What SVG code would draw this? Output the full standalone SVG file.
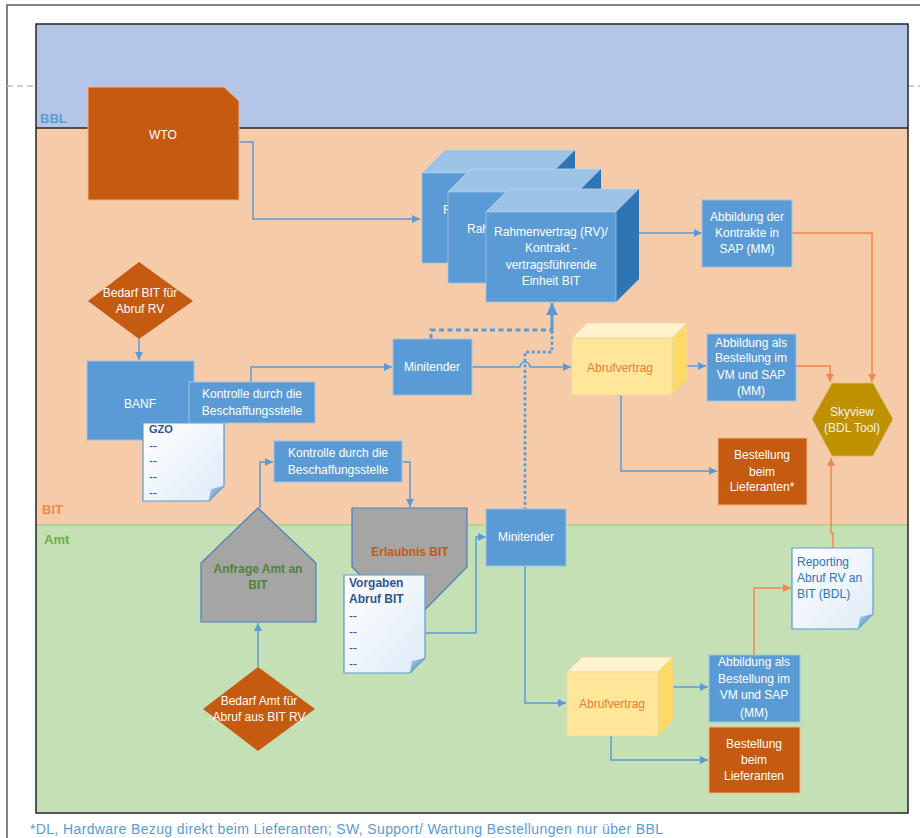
<svg xmlns="http://www.w3.org/2000/svg" width="920" height="838" viewBox="0 0 920 838">
<defs>
<style>
text{font-family:"Liberation Sans",Arial,sans-serif;font-size:12px}
.w{fill:#FFFFFF;text-anchor:middle}
.blue{fill:#5B9BD5;stroke:#9DC3E6;stroke-width:1}
.rust{fill:#C55A11;stroke:#F4B183;stroke-width:1}
.c{fill:none;stroke:#5B9BD5;stroke-width:1.5}
.o{fill:none;stroke:#F4884A;stroke-width:1.5}
.doc{fill:url(#dg);stroke:#5B9BD5;stroke-width:1.2}
.fold{fill:url(#fg)}
.dt{fill:#2F5597;font-weight:bold}
.dash{fill:#2F5597}
</style>
<linearGradient id="dg" x1="0" y1="0" x2="1" y2="1"><stop offset="0" stop-color="#FFFFFF"/><stop offset="1" stop-color="#DEEBF7"/></linearGradient>
<linearGradient id="fg" x1="0" y1="0" x2="1" y2="1"><stop offset="0" stop-color="#BDD7EE"/><stop offset="1" stop-color="#2E75B6"/></linearGradient>
<marker id="ab" viewBox="0 0 10 10" refX="10" refY="5" markerWidth="8" markerHeight="8" markerUnits="userSpaceOnUse" orient="auto"><path d="M0,0 L10,5 L0,10 Z" fill="#5B9BD5"/></marker>
<marker id="abl" viewBox="0 0 10 10" refX="10" refY="5" markerWidth="12" markerHeight="12" markerUnits="userSpaceOnUse" orient="auto"><path d="M0,0 L10,5 L0,10 Z" fill="#5B9BD5"/></marker>
<marker id="ao" viewBox="0 0 10 10" refX="10" refY="5" markerWidth="8" markerHeight="8" markerUnits="userSpaceOnUse" orient="auto"><path d="M0,0 L10,5 L0,10 Z" fill="#F4884A"/></marker>
</defs>
<rect width="920" height="838" fill="#FFFFFF"/>
<path d="M7,838 V5 H920" fill="none" stroke="#595959" stroke-width="1.5"/>
<path d="M7,86 H36 M908,86 H920" stroke="#BFBFBF" stroke-width="1.5" stroke-dasharray="6 4"/>
<g id="lanes">
<rect x="36" y="24" width="872" height="104" fill="#B4C6E7"/>
<rect x="36" y="128" width="872" height="397" fill="#F5CBA9"/>
<rect x="36" y="525" width="872" height="288" fill="#C5E0B4"/>
<line x1="36" y1="525" x2="908" y2="525" stroke="#A9D18E" stroke-width="1.5"/>
<line x1="36" y1="128" x2="908" y2="128" stroke="#262626" stroke-width="1.5"/>
<rect x="36" y="24" width="872" height="789" fill="none" stroke="#262626" stroke-width="1.5"/>
<text x="40" y="123" style="font-size:13px;font-weight:bold;fill:#5B9BD5">BBL</text>
<text x="42" y="514" style="font-size:13px;font-weight:bold;fill:#F4884A">BIT</text>
<text x="44" y="544" style="font-size:13px;font-weight:bold;fill:#70AD47">Amt</text>
</g>
<g id="connectors">
<path class="c" d="M239,142 H253 V219 H420" marker-end="url(#ab)"/>
<path class="c" d="M616,233 H702" marker-end="url(#ab)"/>
<path class="o" d="M792,233 H872 V382" marker-end="url(#ao)"/>
<path class="o" d="M796,366 H830 V382" marker-end="url(#ao)"/>
<path class="o" d="M833,548 V533 H831 V458" marker-end="url(#ao)"/>
<path class="c" d="M139,339 V360" marker-end="url(#ab)"/>
<path class="c" d="M251,382 V367 H392" marker-end="url(#ab)"/>
<path fill="none" stroke="#5B9BD5" stroke-width="3" stroke-dasharray="5 3.5" d="M431,339 V330 H552"/>
<path fill="none" stroke="#5B9BD5" stroke-width="3" stroke-linecap="round" stroke-dasharray="0.5 5" d="M525,509 V352 H552 V330"/>
<path fill="none" stroke="#5B9BD5" stroke-width="3" d="M552,332 V303" marker-end="url(#abl)"/>
<path class="c" d="M472,367 H520 A5,5 0 0 1 530,367 H571" marker-end="url(#ab)"/>
<path class="c" d="M687,366 H706" marker-end="url(#ab)"/>
<path class="c" d="M621,395 V471 H717" marker-end="url(#ab)"/>
<path class="c" d="M260,508 V462 H273" marker-end="url(#ab)"/>
<path class="c" d="M402,462 H410 V507" marker-end="url(#ab)"/>
<path class="c" d="M258,667 V623" marker-end="url(#ab)"/>
<path class="c" d="M425,633 H476 V537 H486" marker-end="url(#ab)"/>
<path class="c" d="M525,566 V703 H566" marker-end="url(#ab)"/>
<path class="c" d="M673,687 H708" marker-end="url(#ab)"/>
<path class="c" d="M611,736 V760 H708" marker-end="url(#ab)"/>
<path class="o" d="M754,655 V588 H791" marker-end="url(#ao)"/>
</g>
<g id="wto">
<path d="M88,87 H224 L239,101 V200 H88 Z" fill="#C55A11" stroke="#F4B183" stroke-width="1"/>
<text class="w" x="163" y="139">WTO</text>
</g>
<g id="rv1">
<path d="M422,173 L445,150 H575 L552,173 Z" fill="#9DC3E6" stroke="#BDD7EE" stroke-width="0.8"/>
<path d="M552,173 L575,150 V240 L552,263 Z" fill="#2E75B6"/>
<rect x="422" y="173" width="130" height="90" fill="#5B9BD5" stroke="#9DC3E6" stroke-width="0.8"/>
<text x="443" y="214" style="fill:#FFFFFF">Rahmen</text>
</g>
<g id="rv2">
<path d="M448,192 L471,169 H601 L578,192 Z" fill="#9DC3E6" stroke="#BDD7EE" stroke-width="0.8"/>
<path d="M578,192 L601,169 V260 L578,283 Z" fill="#2E75B6"/>
<rect x="448" y="192" width="130" height="91" fill="#5B9BD5" stroke="#9DC3E6" stroke-width="0.8"/>
<text x="467" y="233" style="fill:#FFFFFF">Rah</text>
</g>
<g id="rv3">
<path d="M486,212 L509,189 H639 L616,212 Z" fill="#9DC3E6" stroke="#BDD7EE" stroke-width="0.8"/>
<path d="M616,212 L639,189 V279 L616,302 Z" fill="#2E75B6"/>
<rect x="486" y="212" width="130" height="90" fill="#5B9BD5" stroke="#9DC3E6" stroke-width="0.8"/>
<text class="w" x="551" y="236">Rahmenvertrag (RV)/</text>
<text class="w" x="551" y="252">Kontrakt -</text>
<text class="w" x="551" y="269">vertragsführende</text>
<text class="w" x="551" y="285">Einheit BIT</text>
</g>
<g id="abbildung-kontrakte">
<rect class="blue" x="702" y="200" width="90" height="67"/>
<text class="w" x="747" y="221">Abbildung der</text>
<text class="w" x="747" y="237">Kontrakte in</text>
<text class="w" x="747" y="253">SAP (MM)</text>
</g>
<g id="bedarf-bit">
<path d="M139,262 L193,301 L139,339 L88,301 Z" fill="#C55A11"/>
<text class="w" x="140" y="297">Bedarf BIT für</text>
<text class="w" x="140" y="313">Abruf RV</text>
</g>
<g id="banf">
<rect class="blue" x="87" y="361" width="107" height="79"/>
<text class="w" x="140" y="408">BANF</text>
</g>
<g id="kontrolle1">
<rect class="blue" x="189" y="382" width="126" height="41"/>
<text class="w" x="252" y="398">Kontrolle durch die</text>
<text class="w" x="252" y="415">Beschaffungsstelle</text>
</g>
<g id="gzo">
<path class="doc" d="M143,423 H224 V486 L209,501 H143 Z"/>
<path class="fold" d="M209,501 L224,486 L211,489 Z"/>
<text class="dt" x="149" y="433" style="font-size:11px">GZO</text>
<text class="dash" x="149" y="450">--</text>
<text class="dash" x="149" y="465">--</text>
<text class="dash" x="149" y="481">--</text>
<text class="dash" x="149" y="497">--</text>
</g>
<g id="minitender1">
<rect class="blue" x="393" y="339" width="79" height="56"/>
<text class="w" x="432" y="371">Minitender</text>
</g>
<g id="abrufvertrag1">
<path d="M572,338 L587,323 H687 L672,338 Z" fill="#FFF2CC" stroke="#E7D7A8" stroke-width="0.8"/>
<path d="M672,338 L687,323 V380 L672,395 Z" fill="#FFD966" stroke="#E7D7A8" stroke-width="0.8"/>
<rect x="572" y="338" width="100" height="57" fill="#FFE699" stroke="#E7D7A8" stroke-width="0.8"/>
<text x="620" y="372" style="fill:#ED7D31;text-anchor:middle">Abrufvertrag</text>
</g>
<g id="abbildung-bestellung1">
<rect class="blue" x="707" y="334" width="89" height="67"/>
<text class="w" x="751" y="347">Abbildung als</text>
<text class="w" x="751" y="362">Bestellung im</text>
<text class="w" x="751" y="379">VM und SAP</text>
<text class="w" x="751" y="395">(MM)</text>
</g>
<g id="bestellung1">
<rect class="rust" x="718" y="438" width="89" height="67"/>
<text class="w" x="762" y="459">Bestellung</text>
<text class="w" x="762" y="476">beim</text>
<text class="w" x="762" y="491">Lieferanten*</text>
</g>
<g id="skyview">
<path d="M812,419 L832,383 H873 L893,419 L873,456 H832 Z" fill="#BF9000" stroke="#D9C27A" stroke-width="0.8"/>
<text x="852" y="416" style="fill:#F2F2F2;text-anchor:middle">Skyview</text>
<text x="852" y="432" style="fill:#F2F2F2;text-anchor:middle">(BDL Tool)</text>
</g>
<g id="kontrolle2">
<rect class="blue" x="274" y="441" width="128" height="41"/>
<text class="w" x="338" y="457">Kontrolle durch die</text>
<text class="w" x="338" y="474">Beschaffungsstelle</text>
</g>
<g id="anfrage">
<path d="M258,508 L316,563 V622 H201 V563 Z" fill="#A5A5A5" stroke="#4A7EBB" stroke-width="1.2"/>
<text x="258" y="573" style="fill:#548235;font-weight:bold;text-anchor:middle">Anfrage Amt an</text>
<text x="258" y="589" style="fill:#548235;font-weight:bold;text-anchor:middle">BIT</text>
</g>
<g id="erlaubnis">
<path d="M352,508 H467 V567 L410,625 L352,567 Z" fill="#A5A5A5" stroke="#4A7EBB" stroke-width="1.2"/>
<text x="410" y="556" style="fill:#C55A11;font-weight:bold;text-anchor:middle">Erlaubnis BIT</text>
</g>
<g id="vorgaben">
<path class="doc" d="M344,575 H425 V658 L410,673 H344 Z"/>
<path class="fold" d="M410,673 L425,658 L412,661 Z"/>
<text class="dt" x="349" y="587">Vorgaben</text>
<text class="dt" x="349" y="603">Abruf BIT</text>
<text class="dash" x="349" y="620">--</text>
<text class="dash" x="349" y="636">--</text>
<text class="dash" x="349" y="652">--</text>
<text class="dash" x="349" y="668">--</text>
</g>
<g id="minitender2">
<rect class="blue" x="486" y="509" width="80" height="57"/>
<text class="w" x="526" y="541">Minitender</text>
</g>
<g id="bedarf-amt">
<path d="M258,667 L315,709 L258,751 L203,709 Z" fill="#C55A11"/>
<text class="w" x="259" y="705">Bedarf Amt für</text>
<text class="w" x="259" y="721">Abruf aus BIT RV</text>
</g>
<g id="abrufvertrag2">
<path d="M567,672 L582,657 H673 L658,672 Z" fill="#FFF2CC" stroke="#E7D7A8" stroke-width="0.8"/>
<path d="M658,672 L673,657 V721 L658,736 Z" fill="#FFD966" stroke="#E7D7A8" stroke-width="0.8"/>
<rect x="567" y="672" width="91" height="64" fill="#FFE699" stroke="#E7D7A8" stroke-width="0.8"/>
<text x="612" y="708" style="fill:#ED7D31;text-anchor:middle">Abrufvertrag</text>
</g>
<g id="abbildung-bestellung2">
<rect class="blue" x="709" y="655" width="91" height="67"/>
<text class="w" x="754" y="666">Abbildung als</text>
<text class="w" x="754" y="683">Bestellung im</text>
<text class="w" x="754" y="699">VM und SAP</text>
<text class="w" x="754" y="717">(MM)</text>
</g>
<g id="bestellung2">
<rect class="rust" x="709" y="727" width="91" height="66"/>
<text class="w" x="754" y="748">Bestellung</text>
<text class="w" x="754" y="764">beim</text>
<text class="w" x="754" y="780">Lieferanten</text>
</g>
<g id="reporting">
<path class="doc" d="M792,548 H873 V614 L858,629 H792 Z"/>
<path class="fold" d="M858,629 L873,614 L860,617 Z"/>
<text x="797" y="566" style="fill:#2E75B6">Reporting</text>
<text x="797" y="582" style="fill:#2E75B6">Abruf RV an</text>
<text x="797" y="598" style="fill:#2E75B6">BIT (BDL)</text>
</g>
<text x="30" y="834" textLength="633" style="font-size:14px;fill:#5B9BD5">*DL, Hardware Bezug direkt beim Lieferanten; SW, Support/ Wartung Bestellungen nur über BBL</text>
</svg>
